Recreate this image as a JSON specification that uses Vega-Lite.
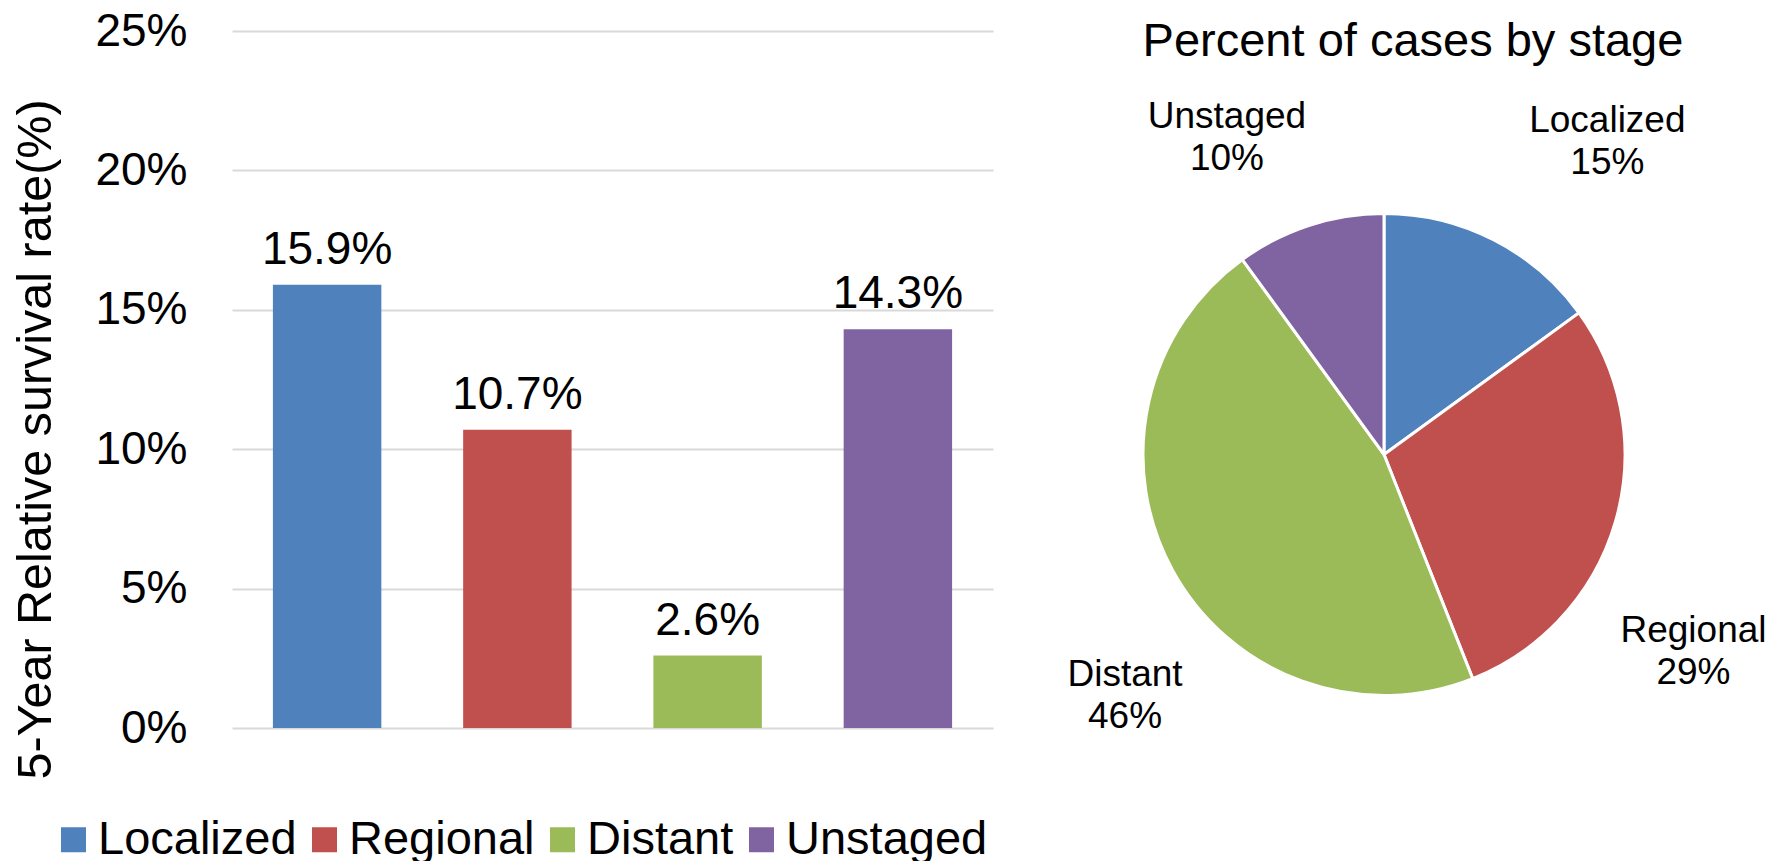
{
  "$schema": "https://vega.github.io/schema/vega-lite/v6.json",
  "padding": {"left": 11, "top": 8, "right": 0, "bottom": 0},
  "autosize": {"type": "pad"},
  "bounds": "flush",
  "spacing": 91,
  "config": {
    "font": "Liberation Sans",
    "view": {"stroke": null},
    "text": {"font": "Liberation Sans", "color": "#000000"}
  },
  "datasets": {
    "survival": [
      {"stage": "Localized", "rate": 0.159},
      {"stage": "Regional", "rate": 0.107},
      {"stage": "Distant", "rate": 0.026},
      {"stage": "Unstaged", "rate": 0.143}
    ],
    "cases": [
      {"stage": "Localized", "share": 0.15, "idx": 1},
      {"stage": "Regional", "share": 0.29, "idx": 2},
      {"stage": "Distant", "share": 0.46, "idx": 3},
      {"stage": "Unstaged", "share": 0.10, "idx": 4}
    ]
  },
  "resolve": {"scale": {"color": "independent"}, "legend": {"color": "independent"}},
  "hconcat": [
    {
      "width": 761,
      "height": 697,
      "data": {"name": "survival"},
      "encoding": {
        "x": {
          "field": "stage",
          "type": "nominal",
          "sort": ["Localized", "Regional", "Distant", "Unstaged"],
          "axis": null,
          "scale": {"paddingInner": 0.43, "paddingOuter": 0.215}
        },
        "y": {
          "field": "rate",
          "type": "quantitative",
          "scale": {"domain": [0, 0.25], "nice": false},
          "axis": {
            "values": [0, 0.05, 0.1, 0.15, 0.2, 0.25],
            "format": ".0%",
            "domain": false,
            "ticks": false,
            "labelPadding": 45,
            "labelFontSize": 46,
            "labelColor": "#000000",
            "labelFont": "Liberation Sans",
            "gridColor": "#D9D9D9",
            "gridWidth": 2,
            "title": "5-Year Relative survival rate(%)",
            "titleFont": "Liberation Sans",
            "titleFontSize": 48.5,
            "titleFontWeight": "normal",
            "titleColor": "#000000",
            "titleAngle": 270,
            "titleX": -197,
            "titleY": 408,
            "titleAlign": "center",
            "titleBaseline": "middle"
          }
        }
      },
      "layer": [
        {
          "mark": {"type": "bar"},
          "encoding": {
            "color": {
              "field": "stage",
              "type": "nominal",
              "sort": ["Localized", "Regional", "Distant", "Unstaged"],
              "scale": {
                "domain": ["Localized", "Regional", "Distant", "Unstaged"],
                "range": ["#4F81BD", "#C0504D", "#9BBB59", "#8064A2"]
              },
              "legend": {
                "orient": "none",
                "legendX": -182,
                "legendY": 785,
                "direction": "horizontal",
                "title": null,
                "padding": 0,
                "symbolType": "square",
                "symbolSize": 625,
                "symbolStrokeWidth": 0,
                "symbolOpacity": 1,
                "labelFont": "Liberation Sans",
                "labelFontSize": 47,
                "labelColor": "#000000",
                "labelOffset": 1,
                "columnPadding": 4,
                "labelLimit": 400
              }
            }
          }
        },
        {
          "mark": {"type": "text", "dy": -21, "baseline": "alphabetic", "fontSize": 46, "color": "#000000"},
          "encoding": {"text": {"field": "rate", "type": "quantitative", "format": ".1%"}}
        }
      ]
    },
    {
      "width": 600,
      "height": 697,
      "data": {"name": "cases"},
      "title": {
        "text": "Percent of cases by stage",
        "font": "Liberation Sans",
        "fontSize": 47,
        "fontWeight": "normal",
        "color": "#000000",
        "frame": "group",
        "anchor": "middle",
        "offset": 0,
        "baseline": "alphabetic",
        "dy": 72,
        "dx": 29
      },
      "encoding": {
        "theta": {"field": "share", "type": "quantitative", "stack": true},
        "order": {"field": "idx", "type": "quantitative"}
      },
      "layer": [
        {
          "mark": {"type": "arc", "outerRadius": 241, "stroke": "#ffffff", "strokeWidth": 3, "y": {"expr": "height/2 + 75"}},
          "encoding": {
            "color": {
              "field": "stage",
              "type": "nominal",
              "scale": {
                "domain": ["Localized", "Regional", "Distant", "Unstaged"],
                "range": ["#4F81BD", "#C0504D", "#9BBB59", "#8064A2"]
              },
              "legend": null
            }
          }
        },
        {
          "mark": {"type": "text", "radius": 340, "fontSize": 37, "baseline": "middle", "align": "center", "dx": 69, "dy": -31, "color": "#000000", "y": {"expr": "height/2 + 75"}},
          "encoding": {"text": {"condition": {"test": "datum.stage === 'Localized'", "field": "stage", "type": "nominal"}, "value": ""}}
        },
        {
          "mark": {"type": "text", "radius": 340, "fontSize": 37, "baseline": "middle", "align": "center", "dx": 69, "dy": 11, "color": "#000000", "y": {"expr": "height/2 + 75"}},
          "encoding": {"text": {"condition": {"test": "datum.stage === 'Localized'", "field": "share", "type": "quantitative", "format": ".0%"}, "value": ""}}
        },
        {
          "mark": {"type": "text", "radius": 340, "fontSize": 37, "baseline": "middle", "align": "center", "dx": -17, "dy": 82, "color": "#000000", "y": {"expr": "height/2 + 75"}},
          "encoding": {"text": {"condition": {"test": "datum.stage === 'Regional'", "field": "stage", "type": "nominal"}, "value": ""}}
        },
        {
          "mark": {"type": "text", "radius": 340, "fontSize": 37, "baseline": "middle", "align": "center", "dx": -17, "dy": 124, "color": "#000000", "y": {"expr": "height/2 + 75"}},
          "encoding": {"text": {"condition": {"test": "datum.stage === 'Regional'", "field": "share", "type": "quantitative", "format": ".0%"}, "value": ""}}
        },
        {
          "mark": {"type": "text", "radius": 340, "fontSize": 37, "baseline": "middle", "align": "center", "dx": 39, "dy": 57, "color": "#000000", "y": {"expr": "height/2 + 75"}},
          "encoding": {"text": {"condition": {"test": "datum.stage === 'Distant'", "field": "stage", "type": "nominal"}, "value": ""}}
        },
        {
          "mark": {"type": "text", "radius": 340, "fontSize": 37, "baseline": "middle", "align": "center", "dx": 39, "dy": 99, "color": "#000000", "y": {"expr": "height/2 + 75"}},
          "encoding": {"text": {"condition": {"test": "datum.stage === 'Distant'", "field": "share", "type": "quantitative", "format": ".0%"}, "value": ""}}
        },
        {
          "mark": {"type": "text", "radius": 340, "fontSize": 37, "baseline": "middle", "align": "center", "dx": -52, "dy": -14, "color": "#000000", "y": {"expr": "height/2 + 75"}},
          "encoding": {"text": {"condition": {"test": "datum.stage === 'Unstaged'", "field": "stage", "type": "nominal"}, "value": ""}}
        },
        {
          "mark": {"type": "text", "radius": 340, "fontSize": 37, "baseline": "middle", "align": "center", "dx": -52, "dy": 28, "color": "#000000", "y": {"expr": "height/2 + 75"}},
          "encoding": {"text": {"condition": {"test": "datum.stage === 'Unstaged'", "field": "share", "type": "quantitative", "format": ".0%"}, "value": ""}}
        }
      ]
    }
  ]
}
